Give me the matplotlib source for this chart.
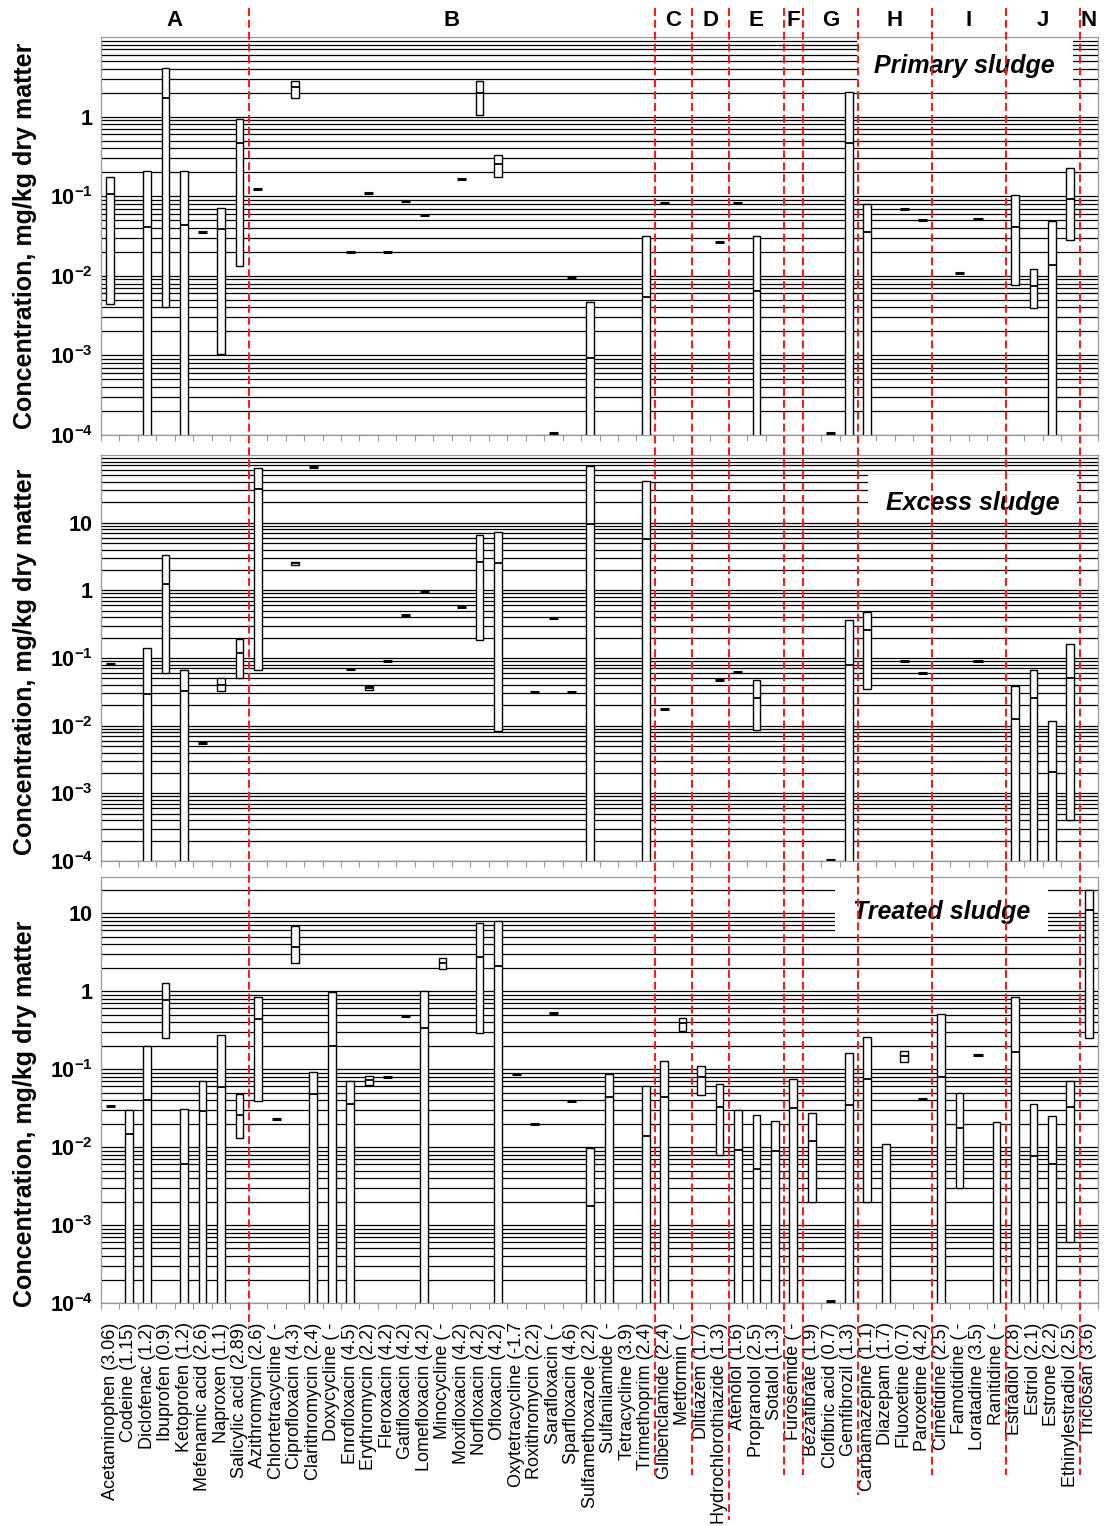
import numpy as np
import matplotlib
matplotlib.use('agg')
import matplotlib.pyplot as plt
import matplotlib.transforms as mtransforms
from matplotlib.lines import Line2D
from matplotlib.patches import Rectangle
from matplotlib.ticker import LogLocator, NullFormatter

plt.rcParams['font.family'] = ['Liberation Sans', 'DejaVu Sans']
plt.rcParams['mathtext.fontset'] = 'custom'
plt.rcParams['mathtext.rm'] = 'Liberation Sans'
plt.rcParams['mathtext.bf'] = 'Liberation Sans:bold'

compounds = [
    'Acetaminophen (3.06)', 'Codeine (1.15)', 'Diclofenac (1.2)', 'Ibuprofen (0.9)',
    'Ketoprofen (1.2)', 'Mefenamic acid (2.6)', 'Naproxen (1.1)', 'Salicylic acid (2.89)',
    'Azithromycin (2.6)', 'Chlortetracycline ( -', 'Ciprofloxacin (4.3)', 'Clarithromycin (2.4)',
    'Doxycycline ( -', 'Enrofloxacin (4.5)', 'Erythromycin (2.2)', 'Fleroxacin (4.2)',
    'Gatifloxacin (4.2)', 'Lomefloxacin (4.2)', 'Minocycline ( -', 'Moxifloxacin (4.2)',
    'Norfloxacin (4.2)', 'Ofloxacin (4.2)', 'Oxytetracycline (-1.7', 'Roxithromycin (2.2)',
    'Sarafloxacin ( -', 'Sparfloxacin (4.6)', 'Sulfamethoxazole (2.2)', 'Sulfanilamide ( -',
    'Tetracycline (3.9)', 'Trimethoprim (2.4)', 'Glibenclamide (2.4)', 'Metformin ( -',
    'Diltiazem (1.7)', 'Hydrochlorothiazide (1.3)', 'Atenolol (1.6)', 'Propranolol (2.5)',
    'Sotalol (1.3)', 'Furosemide ( -', 'Bezafibrate (1.9)', 'Clofibric acid (0.7)',
    'Gemfibrozil (1.3)', 'Carbamazepine (1.1)', 'Diazepam (1.7)', 'Fluoxetine (0.7)',
    'Paroxetine (4.2)', 'Cimetidine (2.5)', 'Famotidine ( -', 'Loratadine (3.5)',
    'Ranitidine ( -', 'Estradiol (2.8)', 'Estriol (2.1)', 'Estrone (2.2)',
    'Ethinylestradiol (2.5)', 'Triclosan (3.6)',
]
groups = ['A', 'B', 'C', 'D', 'E', 'F', 'G', 'H', 'I', 'J', 'N']
group_sizes = [8, 22, 2, 2, 3, 1, 3, 4, 4, 4, 1]

B = 5e-5  # range continues below the axis

# rows: A / B / C / D / E / F / G / H / I / J / N
primary_lo = [
    0.0044, None, B, 0.0040, B, None, 0.00104, 0.0133,
    None, None, 1.69, None, None, None, None, None, None, None, None, None, 1.04, 0.176,
    None, None, None, None, B, None, None, B,
    None, None,
    None, None,
    None, B, None,
    None,
    None, None, B,
    B, None, None, None,
    None, None, None, None,
    0.0077, 0.0039, B, 0.028,
    None]
primary_med = [
    0.108, None, 0.041, 1.70, 0.043, 0.035, 0.039, 0.46,
    0.123, None, 2.36, None, None, 0.020, 0.110, 0.020, 0.088, 0.058, None, 0.166, 2.0, 0.256,
    None, None, 1.05e-4, 0.0097, 0.00092, None, None, 0.0054,
    0.082, None,
    None, 0.0267,
    0.082, 0.0064, None,
    None,
    None, 1.05e-4, 0.46,
    0.036, None, 0.070, 0.0505,
    None, 0.0109, 0.052, None,
    0.041, 0.0074, 0.0138, 0.093,
    None]
primary_hi = [
    0.174, None, 0.21, 4.1, 0.21, None, 0.071, 0.94,
    None, None, 2.84, None, None, None, None, None, None, None, None, None, 2.84, 0.329,
    None, None, None, None, 0.0047, None, None, 0.0315,
    None, None,
    None, None,
    None, 0.0315, None,
    None,
    None, None, 2.04,
    0.080, None, None, None,
    None, None, None, None,
    0.103, 0.0121, 0.0495, 0.228,
    None]

excess_lo = [
    None, None, B, 0.061, B, None, 0.033, 0.051,
    0.067, None, 2.35, None, None, None, 0.034, None, None, None, None, None, 0.186, 0.0084,
    None, None, None, None, B, None, None, B,
    None, None,
    None, None,
    None, 0.0087, None,
    None,
    None, None, B,
    0.0345, None, None, None,
    None, None, None, None,
    B, B, B, 0.00041,
    None]
excess_med = [
    0.082, None, 0.029, 1.26, 0.033, 0.0055, 0.040, 0.12,
    31.8, None, 2.5, 66, None, 0.068, 0.036, 0.090, 0.43, 0.98, None, 0.56, 2.66, 2.54,
    None, 0.031, 0.385, 0.031, 9.7, None, None, 5.8,
    0.0174, None,
    None, 0.048,
    0.063, 0.0254, None,
    None,
    None, 1.05e-4, 0.079,
    0.255, None, 0.090, 0.060,
    None, None, 0.090, None,
    0.0125, 0.0254, 0.0021, 0.051,
    None]
excess_hi = [
    None, None, 0.141, 3.30, 0.067, None, 0.051, 0.194,
    64, None, 2.66, None, None, None, 0.038, None, None, None, None, None, 6.5, 7.4,
    None, None, None, None, 69, None, None, 41,
    None, None,
    None, None,
    None, 0.047, None,
    None,
    None, None, 0.36,
    0.48, None, None, None,
    None, None, None, None,
    0.038, 0.067, 0.0118, 0.162,
    None]

treated_lo = [
    None, B, B, 0.25, B, B, B, 0.0129,
    0.0387, None, 2.31, B, B, B, 0.062, None, None, B, 1.91, None, 0.293, B,
    None, None, None, None, B, B, None, B,
    B, 0.305,
    0.0462, 0.0079,
    B, B, B,
    B,
    0.0020, None, B,
    0.0020, B, 0.122, None,
    B, 0.0030, None, B,
    B, B, B, 0.00061,
    0.25]
treated_med = [
    0.0337, 0.0149, 0.040, 0.77, 0.0061, 0.0288, 0.058, 0.0254,
    0.443, 0.0232, 3.66, 0.0485, 0.196, 0.0358, 0.072, 0.079, 0.479, 0.34, 2.28, None, 2.70, 2.11,
    0.0866, 0.0199, 0.523, 0.0391, 0.00175, 0.044, None, 0.0139,
    0.044, 0.389,
    0.0785, 0.0328,
    0.0091, 0.0052, 0.0089,
    0.0318,
    0.012, 1.05e-4, 0.0344,
    0.0755, None, 0.147, 0.0407,
    0.079, 0.0177, 0.153, None,
    0.166, 0.0077, 0.0061, 0.0328,
    10.8]
treated_hi = [
    None, 0.0297, 0.196, 1.27, 0.0306, 0.070, 0.27, 0.0485,
    0.84, None, 6.9, 0.092, 0.97, 0.070, 0.081, None, None, 1.0, 2.67, None, 7.4, 8.0,
    None, None, None, None, 0.0098, 0.0875, None, 0.060,
    0.127, 0.456,
    0.110, 0.065,
    0.0297, 0.0261, 0.0217,
    0.074,
    0.0272, None, 0.159,
    0.26, 0.0109, 0.172, None,
    0.508, 0.0495, None, 0.0211,
    0.84, 0.0354, 0.0251, 0.070,
    20]

decade_labels = {1e-4: r'$\mathbf{10^{-4}}$', 1e-3: r'$\mathbf{10^{-3}}$',
                 1e-2: r'$\mathbf{10^{-2}}$', 1e-1: r'$\mathbf{10^{-1}}$',
                 1: '1', 10: '10'}

W, H = 1110, 1526
fig = plt.figure(figsize=(W / 100, H / 100), dpi=100)

# panel frames in pixels: top, bottom
left_px, right_px = 101, 1098
panels = [
    dict(name='Primary sludge', lo=primary_lo, med=primary_med, hi=primary_hi,
         top=37, bot=435, ylim=(1e-4, 10), ticks=[1e-4, 1e-3, 1e-2, 1e-1, 1],
         box=(857, 1073, 40, 88), txt=(964, 66), ylab=236),
    dict(name='Excess sludge', lo=excess_lo, med=excess_med, hi=excess_hi,
         top=455, bot=861, ylim=(1e-4, 100), ticks=[1e-4, 1e-3, 1e-2, 1e-1, 1, 10],
         box=(868, 1077, 475, 520), txt=(973, 503), ylab=662),
    dict(name='Treated sludge', lo=treated_lo, med=treated_med, hi=treated_hi,
         top=877, bot=1303, ylim=(1e-4, 29), ticks=[1e-4, 1e-3, 1e-2, 1e-1, 1, 10],
         box=(835, 1048, 887, 933), txt=(942, 912), ylab=1114),
]

x = np.arange(len(compounds))
bw = 0.42
axes = []
for k, p in enumerate(panels):
    ax = fig.add_axes([left_px / W, 1 - p['bot'] / H,
                       (right_px - left_px) / W, (p['bot'] - p['top']) / H])
    axes.append(ax)
    ax.set_yscale('log')
    ax.set_ylim(*p['ylim'])
    ax.set_xlim(-0.5, len(compounds) - 0.5)
    ax.set_axisbelow(True)

    ax.set_yticks(p['ticks'])
    ax.set_yticklabels([decade_labels[t] for t in p['ticks']])
    ax.yaxis.set_minor_locator(LogLocator(base=10, subs=np.arange(2, 10)))
    ax.yaxis.set_minor_formatter(NullFormatter())
    ax.grid(True, which='both', axis='y', color='black', lw=0.9)
    ax.tick_params(axis='y', which='both', length=0, labelsize=15.5, pad=6)
    for lab in ax.get_yticklabels():
        lab.set_fontweight('bold')

    ax.set_xticks(x)
    ax.set_xticks(np.arange(-0.5, len(compounds)), minor=True)
    ax.tick_params(axis='x', which='major', length=0, pad=14, labelsize=13)
    ax.tick_params(axis='x', which='minor', length=4, color='#999999', width=0.8)
    if k == 2:
        ax.set_xticklabels(compounds, rotation=90, ha='center', va='top')
    else:
        ax.set_xticklabels([])
    for s in ax.spines.values():
        s.set_color('#999999')
        s.set_linewidth(0.9)

    lo = np.array(p['lo'], dtype=float)
    med = np.array(p['med'], dtype=float)
    hi = np.array(p['hi'], dtype=float)
    is_box = ~np.isnan(lo) & ~np.isnan(hi)
    ax.bar(x[is_box], hi[is_box] - lo[is_box], bottom=lo[is_box], width=bw,
           facecolor='white', edgecolor='black', linewidth=1.0, zorder=3)
    m = is_box & ~np.isnan(med)
    ax.hlines(med[m], x[m] - bw / 2, x[m] + bw / 2, color='black', lw=1.3, zorder=4)
    s = ~is_box & ~np.isnan(med)
    ax.hlines(med[s], x[s] - 0.245, x[s] + 0.245, color='black', lw=2.2, zorder=4)

    # white panel title box
    x0, x1, y0, y1 = p['box']
    ax.add_patch(Rectangle(((x0 - left_px) / (right_px - left_px), (p['bot'] - y1) / (p['bot'] - p['top'])),
                           (x1 - x0) / (right_px - left_px), (y1 - y0) / (p['bot'] - p['top']),
                           transform=ax.transAxes, facecolor='white', edgecolor='none', zorder=1))
    tx, ty = p['txt']
    ax.text((tx - left_px) / (right_px - left_px), (p['bot'] - ty) / (p['bot'] - p['top']),
            p['name'], transform=ax.transAxes, ha='center', va='center',
            fontsize=18, fontweight='bold', fontstyle='italic', zorder=5)

    fig.text(25 / W, 1 - p['ylab'] / H, 'Concentration, mg/kg dry matter',
             rotation=90, ha='center', va='center', fontsize=18, fontweight='bold')

# group letters and red separators
trans = mtransforms.blended_transform_factory(axes[2].transData, fig.transFigure)
edges = np.concatenate([[0], np.cumsum(group_sizes)]) - 0.5
for g, a, b in zip(groups, edges[:-1], edges[1:]):
    fig.text((a + b) / 2, 1 - 20 / H, g, transform=trans, ha='center', va='center',
             fontsize=16, fontweight='bold')

line_ends = [1328, 1475, 1475, 1520, 1475, 1475, 1495, 1475, 1475, 1475]
for xb, yend in zip(edges[1:-1], line_ends):
    fig.add_artist(Line2D([xb, xb], [1 - 8 / H, 1 - yend / H], transform=trans,
                          color='#ff1a1a', lw=1.5, dashes=(3.8, 1.9), zorder=10))

fig.savefig('out.png', dpi=100)
